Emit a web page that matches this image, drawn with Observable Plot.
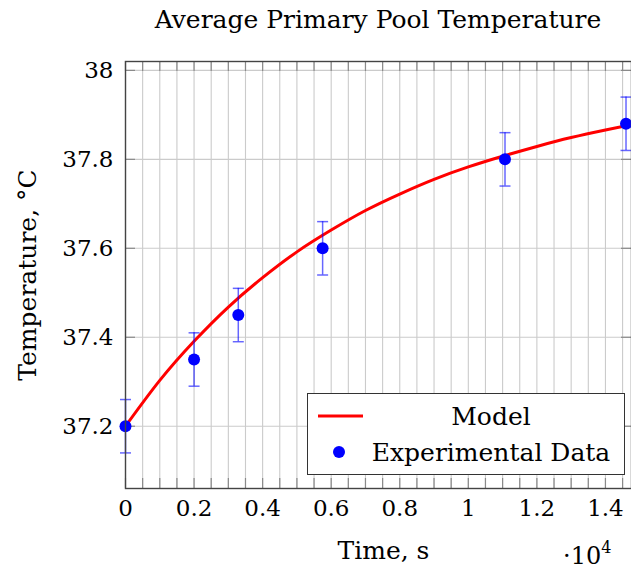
<!DOCTYPE html>
<html>
<head>
<meta charset="utf-8">
<script src="https://cdn.jsdelivr.net/npm/d3@7"></script>
<script src="https://cdn.jsdelivr.net/npm/@observablehq/plot@0.6"></script>
<style>
  body { margin: 0; background: #fff; }
  #wrap { position: relative; width: 631px; height: 569px; font-family: "DejaVu Serif", serif; color: #000; overflow: hidden; }
  #title { height: 40px; width: 506px; margin-left: 125px; text-align: center; font-size: 25px; line-height: 40px; white-space: nowrap; }
  #legend { position: absolute; left: 307px; top: 393px; width: 316px; height: 80px; border: 1.3px solid #333; background: #fff; }
  #exp { position: absolute; left: 563px; top: 536px; font-size: 24px; line-height: 28px; white-space: nowrap; }
  #exp sup { font-size: 16px; position: relative; top: -2px; }
</style>
</head>
<body>
<div id="wrap">
  <div id="title"></div>
  <div id="chart"></div>
  <div id="legend"></div>
  <div id="exp">·10<sup>4</sup></div>
</div>
<script>
// ---- data ----
const titleText = "Average Primary Pool Temperature";
const xLabel = "Time, s";
const yLabel = "Temperature, °C";
const legendLabels = ["Model", "Experimental Data"];

// experimental points (time in s, temperature in °C, error ±)
const expTime = [0, 2000, 3290, 5750, 11070, 14600];
const expTemp = [37.2, 37.35, 37.45, 37.6, 37.8, 37.88];
const expErr  = [0.06, 0.06, 0.06, 0.06, 0.06, 0.06];

// model curve
const modelTime = [0, 1000, 2000, 3000, 4000, 5000, 6000, 7000, 8000, 9000, 10000, 11000, 12000, 13000, 14000, 14760];
const modelTemp = [37.2, 37.303, 37.391, 37.468, 37.534, 37.592, 37.641, 37.685, 37.722, 37.755, 37.783, 37.807, 37.829, 37.849, 37.866, 37.878];

// ticks and grid
const xTicks = [0, 2000, 4000, 6000, 8000, 10000, 12000, 14000];
const xTickLabels = ["0", "0.2", "0.4", "0.6", "0.8", "1", "1.2", "1.4"];
const xMinor = [0, 500, 1000, 1500, 2000, 2500, 3000, 3500, 4000, 4500, 5000, 5500, 6000, 6500, 7000,
                7500, 8000, 8500, 9000, 9500, 10000, 10500, 11000, 11500, 12000, 12500, 13000, 13500, 14000, 14500];
const yTicks = [37.2, 37.4, 37.6, 37.8, 38];
const yTickLabels = ["37.2", "37.4", "37.6", "37.8", "38"];
const xDomain = [0, 14760];
const yDomain = [37.06, 38.02];

// ---- build ----
document.getElementById("title").textContent = titleText;

const points = expTime.map((t, i) => ({t, v: expTemp[i], lo: expTemp[i] - expErr[i], hi: expTemp[i] + expErr[i]}));
const model = modelTime.map((t, i) => ({t, v: modelTemp[i]}));
const cap = {draw(ctx) { ctx.moveTo(-5.5, 0); ctx.lineTo(5.5, 0); }};

const W = 631, H = 529, ML = 125, MR = 0, MT = 21, MB = 81;
const frameH = H - MT - MB, frameW = W - ML - MR;
const tickLen = 10;

const chart = Plot.plot({
  width: W, height: H,
  marginLeft: ML, marginRight: MR, marginTop: MT, marginBottom: MB,
  x: {domain: xDomain},
  y: {domain: yDomain},
  style: {fontFamily: "DejaVu Serif", fontSize: "23px", background: "white", overflow: "visible", color: "#000"},
  marks: [
    // grid
    Plot.tickX(xMinor, {x: d => d, stroke: "#cbcbcb", strokeWidth: 1.1, strokeOpacity: 1}),
    Plot.tickY(yTicks, {y: d => d, stroke: "#cbcbcb", strokeWidth: 1.1, strokeOpacity: 1}),
    // inward ticks (bottom/top minor x, left/right y)
    Plot.tickX(xMinor, {x: d => d, stroke: "#8a8a8a", strokeWidth: 1.2, insetTop: frameH - tickLen}),
    Plot.tickX(xMinor, {x: d => d, stroke: "#8a8a8a", strokeWidth: 1.2, insetBottom: frameH - tickLen}),
    Plot.tickY(yTicks, {y: d => d, stroke: "#8a8a8a", strokeWidth: 1.2, insetRight: frameW - tickLen}),
    Plot.tickY(yTicks, {y: d => d, stroke: "#8a8a8a", strokeWidth: 1.2, insetLeft: frameW - tickLen}),
    // axes labels (no tick lines)
    Plot.axisX(xTicks, {tickSize: 0, tickPadding: 11, tickFormat: (d) => xTickLabels[xTicks.indexOf(d)], label: null, fontSize: 23}),
    Plot.axisY(yTicks, {tickSize: 0, tickPadding: 12, tickFormat: (d) => yTickLabels[yTicks.indexOf(d)], label: null, fontSize: 23}),
    // model
    Plot.line(model, {x: "t", y: "v", stroke: "#ff0000", strokeWidth: 3, curve: "natural"}),
    // error bars
    Plot.ruleX(points, {x: "t", y1: "lo", y2: "hi", stroke: "#0000ff", strokeOpacity: 0.6, strokeWidth: 1.5}),
    Plot.dot(points, {x: "t", y: "lo", symbol: cap, stroke: "#0000ff", strokeOpacity: 0.6, strokeWidth: 1.5, r: 5}),
    Plot.dot(points, {x: "t", y: "hi", symbol: cap, stroke: "#0000ff", strokeOpacity: 0.6, strokeWidth: 1.5, r: 5}),
    // points
    Plot.dot(points, {x: "t", y: "v", fill: "#0000ff", r: 6}),
    // frame
    Plot.frame({stroke: "#444", strokeWidth: 1.4}),
    // axis titles
    Plot.text([xLabel], {frameAnchor: "bottom", text: d => d, dy: 62, dx: 5, textAnchor: "middle", lineAnchor: "middle", fontSize: 25}),
    Plot.text([yLabel], {frameAnchor: "left", text: d => d, rotate: -90, dx: -98, textAnchor: "middle", lineAnchor: "middle", fontSize: 25})
  ]
});
document.getElementById("chart").appendChild(chart);

// legend
const lg = d3.select("#legend").append("svg").attr("width", 316).attr("height", 80).style("display", "block");
lg.append("line").attr("x1", 10).attr("x2", 55).attr("y1", 22).attr("y2", 22)
  .attr("stroke", "#ff0000").attr("stroke-width", 3);
lg.append("circle").attr("cx", 31).attr("cy", 58).attr("r", 6).attr("fill", "#0000ff");
lg.selectAll("text").data(legendLabels).join("text")
  .attr("x", 183).attr("y", (d, i) => i === 0 ? 22 : 58)
  .attr("dy", "0.35em").attr("text-anchor", "middle")
  .attr("font-family", "DejaVu Serif").attr("font-size", 25)
  .text(d => d);
</script>
</body>
</html>
